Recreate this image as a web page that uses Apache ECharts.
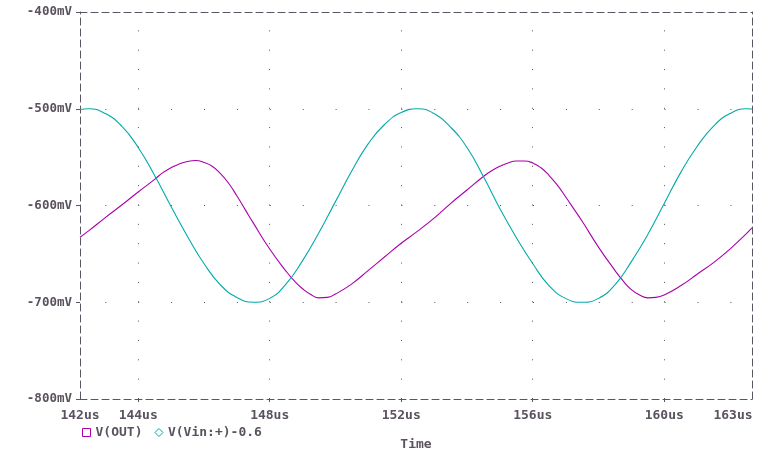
<!DOCTYPE html>
<html>
<head>
<meta charset="utf-8">
<script src="https://cdn.jsdelivr.net/npm/echarts@6/dist/echarts.min.js"></script>
<style>html,body{margin:0;padding:0;background:#fff;}#c{width:762px;height:452px;}</style>
</head>
<body>
<div id="c"></div>
<script>
// ---- data ----
const xMin = 142.23, xMax = 162.67;
const xTickValues = [144, 148, 152, 156, 160];
const xEdgeLabels = ['142us', '163us'];
const yTicks = [-800, -700, -600, -500, -400];
const yGridValues = [-700, -600, -500];
const seriesNames = ['V(OUT)', 'V(Vin:+)-0.6'];

const outTime = [142.23,142.5,143.0,143.5,144.0,144.5,144.75,145.0,145.25,145.5,145.75,146.0,146.25,146.5,146.75,147.0,147.25,147.5,148.0,148.5,148.75,149.0,149.25,149.5,149.75,150.0,150.5,151.0,151.5,152.0,152.5,153.0,153.5,154.0,154.5,154.75,155.0,155.25,155.5,155.75,156.0,156.25,156.5,156.75,157.0,157.25,157.5,158.0,158.5,158.75,159.0,159.25,159.5,159.75,160.0,160.5,161.0,161.5,162.0,162.5,162.67];
const outVals = [-632.8,-626,-612.5,-599.5,-586,-573,-566,-561,-557,-554.5,-553.5,-555.5,-559.5,-567,-577,-590,-604,-618,-645,-668,-678,-686,-692,-695.5,-695,-691.5,-681,-667,-653,-639,-626.5,-613,-598,-584,-570,-564,-559.5,-556,-554,-554,-556,-561,-569,-579,-591,-603.5,-616,-643,-667,-678,-687,-692.5,-695.5,-695,-692.5,-683,-671,-659,-645,-629,-623.2];

const vinTime = [142.23,142.5,143.0,143.5,144.0,144.5,145.0,145.5,146.0,146.5,147.0,147.5,148.0,148.5,149.0,149.5,150.0,150.5,151.0,151.5,152.0,152.5,153.0,153.5,154.0,154.5,155.0,155.5,156.0,156.5,157.0,157.5,158.0,158.5,159.0,159.5,160.0,160.5,161.0,161.5,162.0,162.5,162.67];
const vinVals = [-500.8,-500,-505,-518,-540,-569,-601,-632,-660,-682,-695,-700,-696,-681,-657,-628,-596,-564,-536,-516,-504,-500,-505,-519,-540,-570,-603,-633,-660,-683,-696,-700,-696,-682,-658,-630,-598,-566,-539,-518,-505,-500,-500.3];

// ---- styling ----
const TXT = '#5a525e';
const AX = '#5a5560';
const FONT = 'DejaVu Sans Mono';
const PURPLE = '#aa00aa';
const TEAL = '#00aaaa';

const zip = (a, b) => a.map((v, i) => [v, b[i]]);

const chart = echarts.init(document.getElementById('c'), null, {renderer: 'canvas'});
const dashed = {color: AX, width: 1, type: [7, 4]};

chart.setOption({
  animation: false,
  backgroundColor: '#fff',
  textStyle: {fontFamily: FONT, fontWeight: 'bold', color: TXT},
  grid: {left: 80, right: 10, top: 12, bottom: 53, containLabel: false, outerBoundsMode: 'none'},
  legend: {
    left: 77, top: 421,
    itemWidth: 8, itemHeight: 8, itemGap: 12,
    textStyle: {fontFamily: FONT, fontWeight: 'bold', fontSize: 13, color: TXT},
    data: [
      {name: seriesNames[0], icon: 'rect', itemStyle: {color: 'transparent', borderColor: PURPLE, borderWidth: 1}},
      {name: seriesNames[1], icon: 'diamond', itemStyle: {color: 'transparent', borderColor: TEAL, borderWidth: 1}}
    ]
  },
  xAxis: [{
    type: 'value', min: xMin, max: xMax, position: 'bottom',
    name: 'Time', nameLocation: 'middle', nameGap: 39,
    nameTextStyle: {fontFamily: FONT, fontWeight: 'bold', fontSize: 13, color: TXT},
    axisLine: {show: true, onZero: false, lineStyle: dashed},
    axisTick: {show: true, inside: false, length: 3, lineStyle: {color: AX}, customValues: xTickValues},
    axisLabel: {
      show: true, margin: 10, fontFamily: FONT, fontWeight: 'bold', fontSize: 13, color: TXT,
      customValues: [xMin].concat(xTickValues, [xMax]),
      formatter: function (v) {
        if (Math.abs(v - xMin) < 1e-6) return xEdgeLabels[0];
        if (Math.abs(v - xMax) < 1e-6) return '{r|' + xEdgeLabels[1] + '}';
        return Math.round(v) + 'us';
      },
      rich: {r: {fontFamily: FONT, fontWeight: 'bold', fontSize: 13, color: TXT, padding: [0, 38, 0, 0]}}
    },
    splitLine: {show: false}
  }, {
    type: 'value', min: xMin, max: xMax, position: 'top',
    axisLine: {show: true, onZero: false, lineStyle: dashed},
    axisTick: {show: false}, axisLabel: {show: false}, splitLine: {show: false}
  }],
  yAxis: [{
    type: 'value', min: yTicks[0], max: yTicks[yTicks.length - 1], interval: 100, position: 'left',
    axisLine: {show: true, onZero: false, lineStyle: dashed},
    axisTick: {show: true, inside: false, length: 4, lineStyle: {color: AX}},
    axisLabel: {
      show: true, margin: 8, fontFamily: FONT, fontWeight: 'bold', fontSize: 12.5, color: TXT,
      formatter: v => v + 'mV'
    },
    splitLine: {show: false}
  }, {
    type: 'value', min: yTicks[0], max: yTicks[yTicks.length - 1], position: 'right',
    axisLine: {show: true, onZero: false, lineStyle: dashed},
    axisTick: {show: false}, axisLabel: {show: false}, splitLine: {show: false}
  }],
  series: [{
    name: seriesNames[0], type: 'line', data: zip(outTime, outVals),
    smooth: 0.5, showSymbol: false, symbol: 'none',
    lineStyle: {color: PURPLE, width: 1.1}, itemStyle: {color: PURPLE},
    z: 3,
    markLine: {
      silent: true, symbol: ['none', 'none'], label: {show: false}, animation: false,
      lineStyle: {color: '#555', width: 1, type: [1, 18.35], dashOffset: 0},
      emphasis: {disabled: true},
      data: xTickValues.map(v => ({xAxis: v}))
    }
  }, {
    name: seriesNames[1], type: 'line', data: zip(vinTime, vinVals),
    smooth: 0.5, showSymbol: false, symbol: 'none',
    lineStyle: {color: TEAL, width: 1.1}, itemStyle: {color: TEAL},
    z: 4,
    markLine: {
      silent: true, symbol: ['none', 'none'], label: {show: false}, animation: false,
      lineStyle: {color: '#555', width: 1, type: [1, 31.9], dashOffset: 7.6},
      emphasis: {disabled: true},
      data: yGridValues.map(v => ({yAxis: v}))
    }
  }]
});
</script>
</body>
</html>
